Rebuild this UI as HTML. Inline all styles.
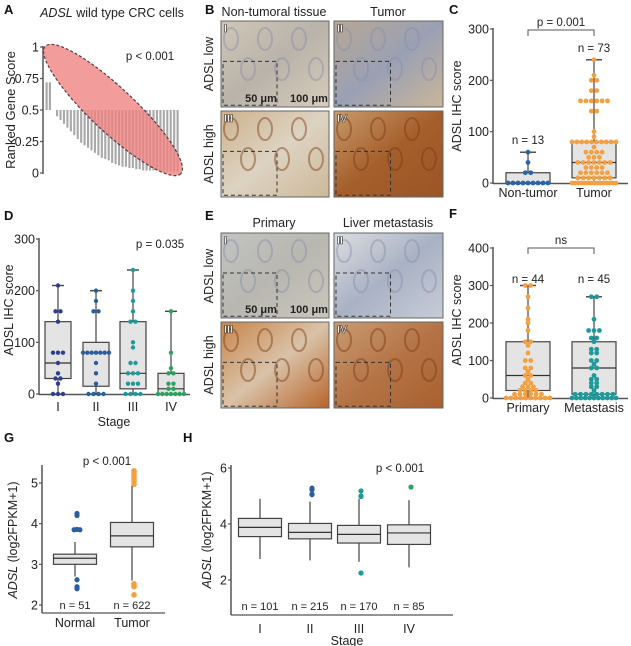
<!DOCTYPE html>
<html><head><meta charset="utf-8">
<style>
html,body{margin:0;padding:0;background:#fff;}
svg{display:block;font-family:"Liberation Sans",Arial,sans-serif;}
</style></head>
<body>
<svg id="fig" width="631" height="646" viewBox="0 0 631 646" xmlns="http://www.w3.org/2000/svg">
<defs>
<linearGradient id="gB1" x1="0" y1="0" x2="1" y2="1"><stop offset="0" stop-color="#cfc6b6"/><stop offset="0.5" stop-color="#b9b3aa"/><stop offset="1" stop-color="#d6ccba"/></linearGradient>
<linearGradient id="gB2" x1="0" y1="0" x2="1" y2="1"><stop offset="0" stop-color="#b8a894"/><stop offset="0.5" stop-color="#9aa0b4"/><stop offset="1" stop-color="#c9b69a"/></linearGradient>
<linearGradient id="gB3" x1="0" y1="0" x2="1" y2="1"><stop offset="0" stop-color="#cdb28c"/><stop offset="0.5" stop-color="#ddd3c2"/><stop offset="1" stop-color="#cdb898"/></linearGradient>
<linearGradient id="gB4" x1="0" y1="0" x2="1" y2="1"><stop offset="0" stop-color="#c99a6c"/><stop offset="0.5" stop-color="#a55f2c"/><stop offset="1" stop-color="#9b5526"/></linearGradient>
<linearGradient id="gE1" x1="0" y1="0" x2="1" y2="1"><stop offset="0" stop-color="#c3c3c3"/><stop offset="0.5" stop-color="#b8b7b0"/><stop offset="1" stop-color="#c9c6bb"/></linearGradient>
<linearGradient id="gE2" x1="0" y1="0" x2="1" y2="1"><stop offset="0" stop-color="#dcdde0"/><stop offset="0.5" stop-color="#a9b2c4"/><stop offset="1" stop-color="#c7ccd6"/></linearGradient>
<linearGradient id="gE3" x1="0" y1="0" x2="1" y2="1"><stop offset="0" stop-color="#c8854a"/><stop offset="0.5" stop-color="#d9c2a8"/><stop offset="1" stop-color="#b8642a"/></linearGradient>
<linearGradient id="gE4" x1="0" y1="0" x2="1" y2="1"><stop offset="0" stop-color="#c99c72"/><stop offset="0.5" stop-color="#b57446"/><stop offset="1" stop-color="#a8602e"/></linearGradient>
</defs>
<g id="labels" font-weight="bold" font-size="13" fill="#111">
<text x="4" y="14">A</text>
<text x="205" y="14">B</text>
<text x="449" y="14">C</text>
<text x="4" y="220">D</text>
<text x="205" y="220">E</text>
<text x="449" y="218">F</text>
<text x="4" y="442">G</text>
<text x="183" y="442">H</text>
</g>
<g id="pA"></g>
<g id="pB"></g>
<g id="pC"></g>
<g id="pD"></g>
<g id="pF"></g>
<g id="pG"></g>
<g id="pH"></g>
</svg>
<script>
// ---------- DATA ----------
const aUpBars = [0.72, 0.72];
const aDownBars = [0.45,0.42,0.39,0.36,0.33,0.30,0.27,0.24,0.22,0.20,0.18,0.16,0.14,0.12,0.11,0.10,0.08,0.07,0.06,0.05,0.05,0.04,0.04,0.03,0.03,0.02,0.02,0.02,0.02,0.02,0.02,0.01,0.01,0.01,0.01,0.01];
const aTicks = [0,0.25,0.5,0.75,1];
const aTickLabels = ["0","0.25","0.5","0.75","1"];

const cCategories = ["Non-tumor","Tumor"];
const cNonTumor = [60,40,20,20,0,0,0,0,0,0,0,0,0];
const cTumor = [240,210,200,200,180,180,160,160,160,160,160,160,140,140,100,90,80,80,80,80,80,80,80,80,80,80,70,60,60,60,60,50,50,50,40,40,40,40,40,40,40,30,30,30,30,20,20,20,20,20,20,10,10,10,10,10,10,10,0,0,0,0,0,0,0,0,0,0,0,0,0,0,0];
const cBoxes = [[0,0,0,20,60],[0,10,40,80,240]];
const cN = ["n = 13","n = 73"];
const cTicks = [0,100,200,300];

const dCategories = ["I","II","III","IV"];
const dStage1 = [210,160,160,140,80,80,80,60,40,30,30,20,0,0,0];
const dStage2 = [200,180,160,160,80,80,80,80,80,80,80,60,40,20,0,0,0,0];
const dStage3 = [240,200,180,160,140,140,100,90,60,60,40,40,40,20,20,20,0,0,0,0];
const dStage4 = [160,80,50,40,40,20,20,10,10,0,0,0,0,0,0,0];
const dBoxes = [[0,30,60,140,210],[0,15,80,100,200],[0,10,40,140,240],[0,0,10,40,160]];
const dTicks = [0,100,200,300];

const fCategories = ["Primary","Metastasis"];
const fPrimary = [300,300,270,240,210,200,180,150,150,140,120,100,100,80,80,70,60,60,50,40,40,30,30,30,20,20,20,20,10,10,10,10,10,10,0,0,0,0,0,0,0,0,0,0];
const fMetastasis = [270,270,210,180,180,180,160,160,150,130,130,120,120,100,100,90,80,80,60,50,50,40,40,30,30,20,10,10,10,10,10,10,10,10,0,0,0,0,0,0,0,0,0,0,0];
const fBoxes = [[0,20,60,150,300],[0,10,80,150,270]];
const fN = ["n = 44","n = 45"];
const fTicks = [0,100,200,300,400];

const gCategories = ["Normal","Tumor"];
const gBoxes = [[2.7,3.0,3.15,3.25,3.55],[2.6,3.43,3.7,4.03,4.95]];
const gOutNormal = [4.25,4.2,3.85,3.85,3.86,2.62,2.45,2.4,2.42];
const gOutTumor = [5.3,5.27,5.22,5.15,5.1,5.05,4.97,2.52,2.47,2.45,2.25];
const gN = ["n = 51","n = 622"];
const gTicks = [2,3,4,5];

const hCategories = ["I","II","III","IV"];
const hBoxes = [[2.75,3.55,3.88,4.2,4.9],[2.7,3.47,3.7,4.02,4.8],[2.65,3.32,3.63,3.95,4.9],[2.45,3.27,3.68,3.97,4.85]];
const hOut1 = [];
const hOut2 = [5.28,5.22,5.07,5.05];
const hOut3 = [5.18,5.0,4.98,2.25];
const hOut4 = [5.32];
const hN = ["n = 101","n = 215","n = 170","n = 85"];
const hTicks = [2,4,6];

// ---------- HELPERS ----------
const NS = "http://www.w3.org/2000/svg";
function mk(parent, tag, attrs, txt){
  const e = document.createElementNS(NS, tag);
  for (const k in attrs) e.setAttribute(k, attrs[k]);
  if (txt !== undefined) e.textContent = txt;
  parent.appendChild(e);
  return e;
}
function lin(d0,d1,r0,r1){ return v => r0 + (v-d0)*(r1-r0)/(d1-d0); }

function yAxis(g, x, y, ticks, labels, top, bottom, fs){
  const ax = mk(g,'line',{x1:x,y1:top,x2:x,y2:bottom,stroke:'#555','stroke-width':1.5});
  
  
  ticks.forEach((t,i)=>{
    const tl = mk(g,'line',{x1:x-3,y1:y(t),x2:x,y2:y(t),stroke:'#555','stroke-width':1.2});
    
    
    const tx = mk(g,'text',{x:x-4,y:y(t)+4.5,'text-anchor':'end','font-size':fs,fill:'#222'}, labels ? labels[i] : String(t));
    
    
  });
}
function rotLabel(g, x, y, txt, fs, italicPart){
  const t = mk(g,'text',{x:0,y:0,'text-anchor':'middle','font-size':fs,fill:'#222',transform:`translate(${x},${y}) rotate(-90)`});
  
  
  if (italicPart){
    mk(t,'tspan',{'font-style':'italic'},italicPart);
    mk(t,'tspan',{},txt);
  } else t.textContent = txt;
}
function box(g, cx, w, y, b, fill, sw){
  const [lo,q1,md,q3,hi] = b;
  const wl = mk(g,'line',{x1:cx,y1:y(hi),x2:cx,y2:y(lo),stroke:'#444','stroke-width':1.2});
  
  
  if (sw){
    [lo,hi].forEach(v=>{
      const c = mk(g,'line',{x1:cx-sw,y1:y(v),x2:cx+sw,y2:y(v),stroke:'#444','stroke-width':1.4});
      
      
    });
  }
  const r = mk(g,'rect',{x:cx-w/2,y:y(q3),width:w,height:Math.max(0.5,y(q1)-y(q3)),fill:fill,stroke:'#444','stroke-width':1.2});
  
  
  const m = mk(g,'line',{x1:cx-w/2,y1:y(md),x2:cx+w/2,y2:y(md),stroke:'#333','stroke-width':1.2});
  
  
}
function swarm(g, cx, vals, y, color, r, maxW){
  const groups = {};
  vals.forEach(v=>{ (groups[v] = groups[v]||[]).push(v); });
  Object.keys(groups).forEach(k=>{
    const n = groups[k].length;
    const step = Math.min(2*r+0.6, n>1 ? maxW/(n-1) : 0);
    for (let i=0;i<n;i++){
      const c = mk(g,'circle',{cx:cx+(i-(n-1)/2)*step,cy:y(+k),r:r,fill:color});
      
      
    }
  });
}
function xLabel(g,x,y,txt,fs){
  const t = mk(g,'text',{x:x,y:y,'text-anchor':'middle','font-size':fs,fill:'#222'},txt);
  
  
}
function txt(g,x,y,s,fs,name,anchor){
  const t = mk(g,'text',{x:x,y:y,'text-anchor':anchor||'middle','font-size':fs,fill:'#222'},s);
  
  
  return t;
}

// ---------- PANEL A ----------
(function(){
  const g = document.getElementById('pA');
  const y = lin(0,1,173,47);
  const t = mk(g,'text',{x:112,y:17,'text-anchor':'middle','font-size':12.5,fill:'#222'});
  
  
  mk(t,'tspan',{'font-style':'italic'},'ADSL');
  mk(t,'tspan',{},' wild type CRC cells');
  aUpBars.forEach((v,i)=>{
    const x = 45.5 + i*3.3;
    const b = mk(g,'rect',{x:x,y:y(v),width:2.2,height:y(0.5)-y(v),fill:'#a9a9a9'});
    
    
  });
  const step = (180-56)/aDownBars.length;
  aDownBars.forEach((v,i)=>{
    const x = 56 + i*step;
    const b = mk(g,'rect',{x:x,y:y(0.5),width:step*0.62,height:y(v)-y(0.5),fill:'#a9a9a9'});
    
    
  });
  const e = mk(g,'ellipse',{cx:113,cy:110,rx:93,ry:22,fill:'#f08080','fill-opacity':0.78,stroke:'#5a3a3a','stroke-width':1.2,'stroke-dasharray':'3,2',transform:'rotate(43.2 113 110)'});
  
  
  yAxis(g,43,y,aTicks,aTickLabels,46,174,12.5);
  rotLabel(g,15,110,'Ranked Gene Score',13);
  txt(g,150,60,'p < 0.001',11.5,'p-value-label');
})();

// ---------- PANELS B/E (histology) ----------
(function(){
  const g = document.getElementById('pB');
  function img(x,y,w,h,fill,num,name,dark,scale){
    const gg = mk(g,'g',{});
    
    
    mk(gg,'rect',{x:x,y:y,width:w,height:h,fill:fill,stroke:'#666','stroke-width':1});
    // texture glands
    const col = dark ? '#7a3a14' : '#8a8fa8';
    for (let i=0;i<6;i++){
      mk(gg,'ellipse',{cx:x+10+i*17,cy:y+18+(i%2)*30,rx:7,ry:11,fill:'none',stroke:col,'stroke-width':2,'stroke-opacity':0.45});
    }
    mk(gg,'rect',{x:x+2,y:y+h*0.47,width:w*0.5,height:h*0.51,fill:'none',stroke:'#333','stroke-width':1,'stroke-dasharray':'4,3'});
    const t = mk(gg,'text',{x:x+3,y:y+11,'font-size':11,'font-weight':'bold',fill:'#fff',stroke:'#333','stroke-width':0.6},num);
    
    
    if (scale){
      txt(gg,x+40,y+h-5,'50 μm',11,'scale-bar-label').setAttribute('font-weight','bold');
      txt(gg,x+88,y+h-5,'100 μm',11,'scale-bar-label').setAttribute('font-weight','bold');
    }
  }
  img(221,21,108,86,'url(#gB1)','I','tissue-image-b1',false,true);
  img(334,21,109,86,'url(#gB2)','II','tissue-image-b2',false,false);
  img(221,111,108,86,'url(#gB3)','III','tissue-image-b3',true,false);
  img(334,111,109,86,'url(#gB4)','IV','tissue-image-b4',true,false);
  img(221,233,108,85,'url(#gE1)','I','tissue-image-e1',false,true);
  img(334,233,109,85,'url(#gE2)','II','tissue-image-e2',false,false);
  img(221,322,108,86,'url(#gE3)','III','tissue-image-e3',true,false);
  img(334,322,109,86,'url(#gE4)','IV','tissue-image-e4',true,false);
  txt(g,274,16,'Non-tumoral tissue',12.5,'column-title');
  txt(g,388,16,'Tumor',12.5,'column-title');
  txt(g,274,227,'Primary',12.5,'column-title');
  txt(g,388,227,'Liver metastasis',12.5,'column-title');
  [['ADSL low',64],['ADSL high',154],['ADSL low',276],['ADSL high',365]].forEach(([s,cy])=>{
    const t = mk(g,'text',{x:0,y:0,'text-anchor':'middle','font-size':12.5,fill:'#222',transform:`translate(213,${cy}) rotate(-90)`},s);
    
    
  });
})();

// ---------- PANEL C ----------
(function(){
  const g = document.getElementById('pC');
  const y = lin(0,300,183,29);
  const xs = [528,594];
  yAxis(g,493,y,cTicks,null,28,184,12.5);
  const xa = mk(g,'line',{x1:493,y1:183.5,x2:628,y2:183.5,stroke:'#555','stroke-width':1.5});
  
  
  cBoxes.forEach((b,i)=>box(g,xs[i],44,y,b,'#e4e4e4',8));
  swarm(g,xs[0],cNonTumor,y,'#2a64a8',2.4,40);
  swarm(g,xs[1],cTumor,y,'#f5a040',2.4,44);
  cCategories.forEach((c,i)=>xLabel(g,xs[i],197,c,12.5));
  cN.forEach((s,i)=>txt(g,xs[i],[144,52][i],s,11.5,'n-label'));
  rotLabel(g,461,106,'ADSL IHC score',12.5);
  const br = mk(g,'path',{d:`M${xs[0]},36 V30 H${xs[1]} V36`,fill:'none',stroke:'#555','stroke-width':1});
  
  
  txt(g,561,26,'p = 0.001',11.5,'p-value-label');
})();

// ---------- PANEL D ----------
(function(){
  const g = document.getElementById('pD');
  const y = lin(0,300,394,239);
  const xs = [58,96,133,171];
  const cols = ['#2f3f8f','#2a5f9e','#1f9a9a','#2ca25f'];
  const sets = [dStage1,dStage2,dStage3,dStage4];
  yAxis(g,39,y,dTicks,null,238,395,12.5);
  const xa = mk(g,'line',{x1:39,y1:394.5,x2:190,y2:394.5,stroke:'#555','stroke-width':1.5});
  
  
  dBoxes.forEach((b,i)=>box(g,xs[i],26,y,b,'#e4e4e4',6));
  sets.forEach((s,i)=>swarm(g,xs[i],s,y,cols[i],2.2,26));
  dCategories.forEach((c,i)=>xLabel(g,xs[i],411,c,12.5));
  txt(g,114,426,'Stage',12.5,'x-axis-title');
  rotLabel(g,13,310,'ADSL IHC score',12.5);
  txt(g,160,248,'p = 0.035',11.5,'p-value-label');
})();

// ---------- PANEL F ----------
(function(){
  const g = document.getElementById('pF');
  const y = lin(0,400,398,248);
  const xs = [528,594];
  yAxis(g,493,y,fTicks,null,247,399,12.5);
  const xa = mk(g,'line',{x1:493,y1:398.5,x2:628,y2:398.5,stroke:'#555','stroke-width':1.5});
  
  
  fBoxes.forEach((b,i)=>box(g,xs[i],44,y,b,'#e4e4e4',8));
  swarm(g,xs[0],fPrimary,y,'#f5a040',2.4,44);
  swarm(g,xs[1],fMetastasis,y,'#1f9a9a',2.4,44);
  fCategories.forEach((c,i)=>xLabel(g,xs[i],412,c,12.5));
  fN.forEach((s,i)=>txt(g,xs[i],283,s,11.5,'n-label'));
  rotLabel(g,461,320,'ADSL IHC score',12.5);
  const br = mk(g,'path',{d:`M${xs[0]},254 V248 H${xs[1]} V254`,fill:'none',stroke:'#555','stroke-width':1});
  
  
  txt(g,561,244,'ns',11.5,'significance-label');
})();

// ---------- PANEL G ----------
(function(){
  const g = document.getElementById('pG');
  const y = lin(2,5,605,483);
  const xs = [75,132];
  yAxis(g,42,y,gTicks,null,465,613,12.5);
  const xa = mk(g,'line',{x1:42,y1:613,x2:165,y2:613,stroke:'#555','stroke-width':1.2});
  
  
  gBoxes.forEach((b,i)=>box(g,xs[i],43,y,b,'#e4e4e4',0));
  swarm(g,xs[0]+2,gOutNormal,y,'#2a5f9e',2.6,10);
  swarm(g,xs[1]+2,gOutTumor,y,'#f5a040',2.8,10);
  gCategories.forEach((c,i)=>xLabel(g,xs[i],627,c,12.5));
  gN.forEach((s,i)=>txt(g,xs[i],609,s,11,'n-label'));
  rotLabel(g,17,540,' (log2FPKM+1)',12.5,'ADSL');
  txt(g,107,465,'p < 0.001',11.5,'p-value-label');
})();

// ---------- PANEL H ----------
(function(){
  const g = document.getElementById('pH');
  const y = lin(2,6,580,468);
  const xs = [260,310,359,409];
  const cols = ['#2f3f8f','#2a5f9e','#1f9a9a','#2ca25f'];
  const outs = [hOut1,hOut2,hOut3,hOut4];
  yAxis(g,231,y,hTicks,null,465,615,12.5);
  const xa = mk(g,'line',{x1:231,y1:615,x2:453,y2:615,stroke:'#555','stroke-width':1.2});
  
  
  hBoxes.forEach((b,i)=>box(g,xs[i],43,y,b,'#e4e4e4',0));
  outs.forEach((o,i)=>swarm(g,xs[i]+2,o,y,cols[i],2.6,10));
  hCategories.forEach((c,i)=>xLabel(g,xs[i],633,c,12.5));
  hN.forEach((s,i)=>txt(g,xs[i],610,s,11,'n-label'));
  txt(g,347,645,'Stage',12.5,'x-axis-title');
  rotLabel(g,211,530,' (log2FPKM+1)',12.5,'ADSL');
  txt(g,400,472,'p < 0.001',11.5,'p-value-label');
})();
</script>
</body></html>
